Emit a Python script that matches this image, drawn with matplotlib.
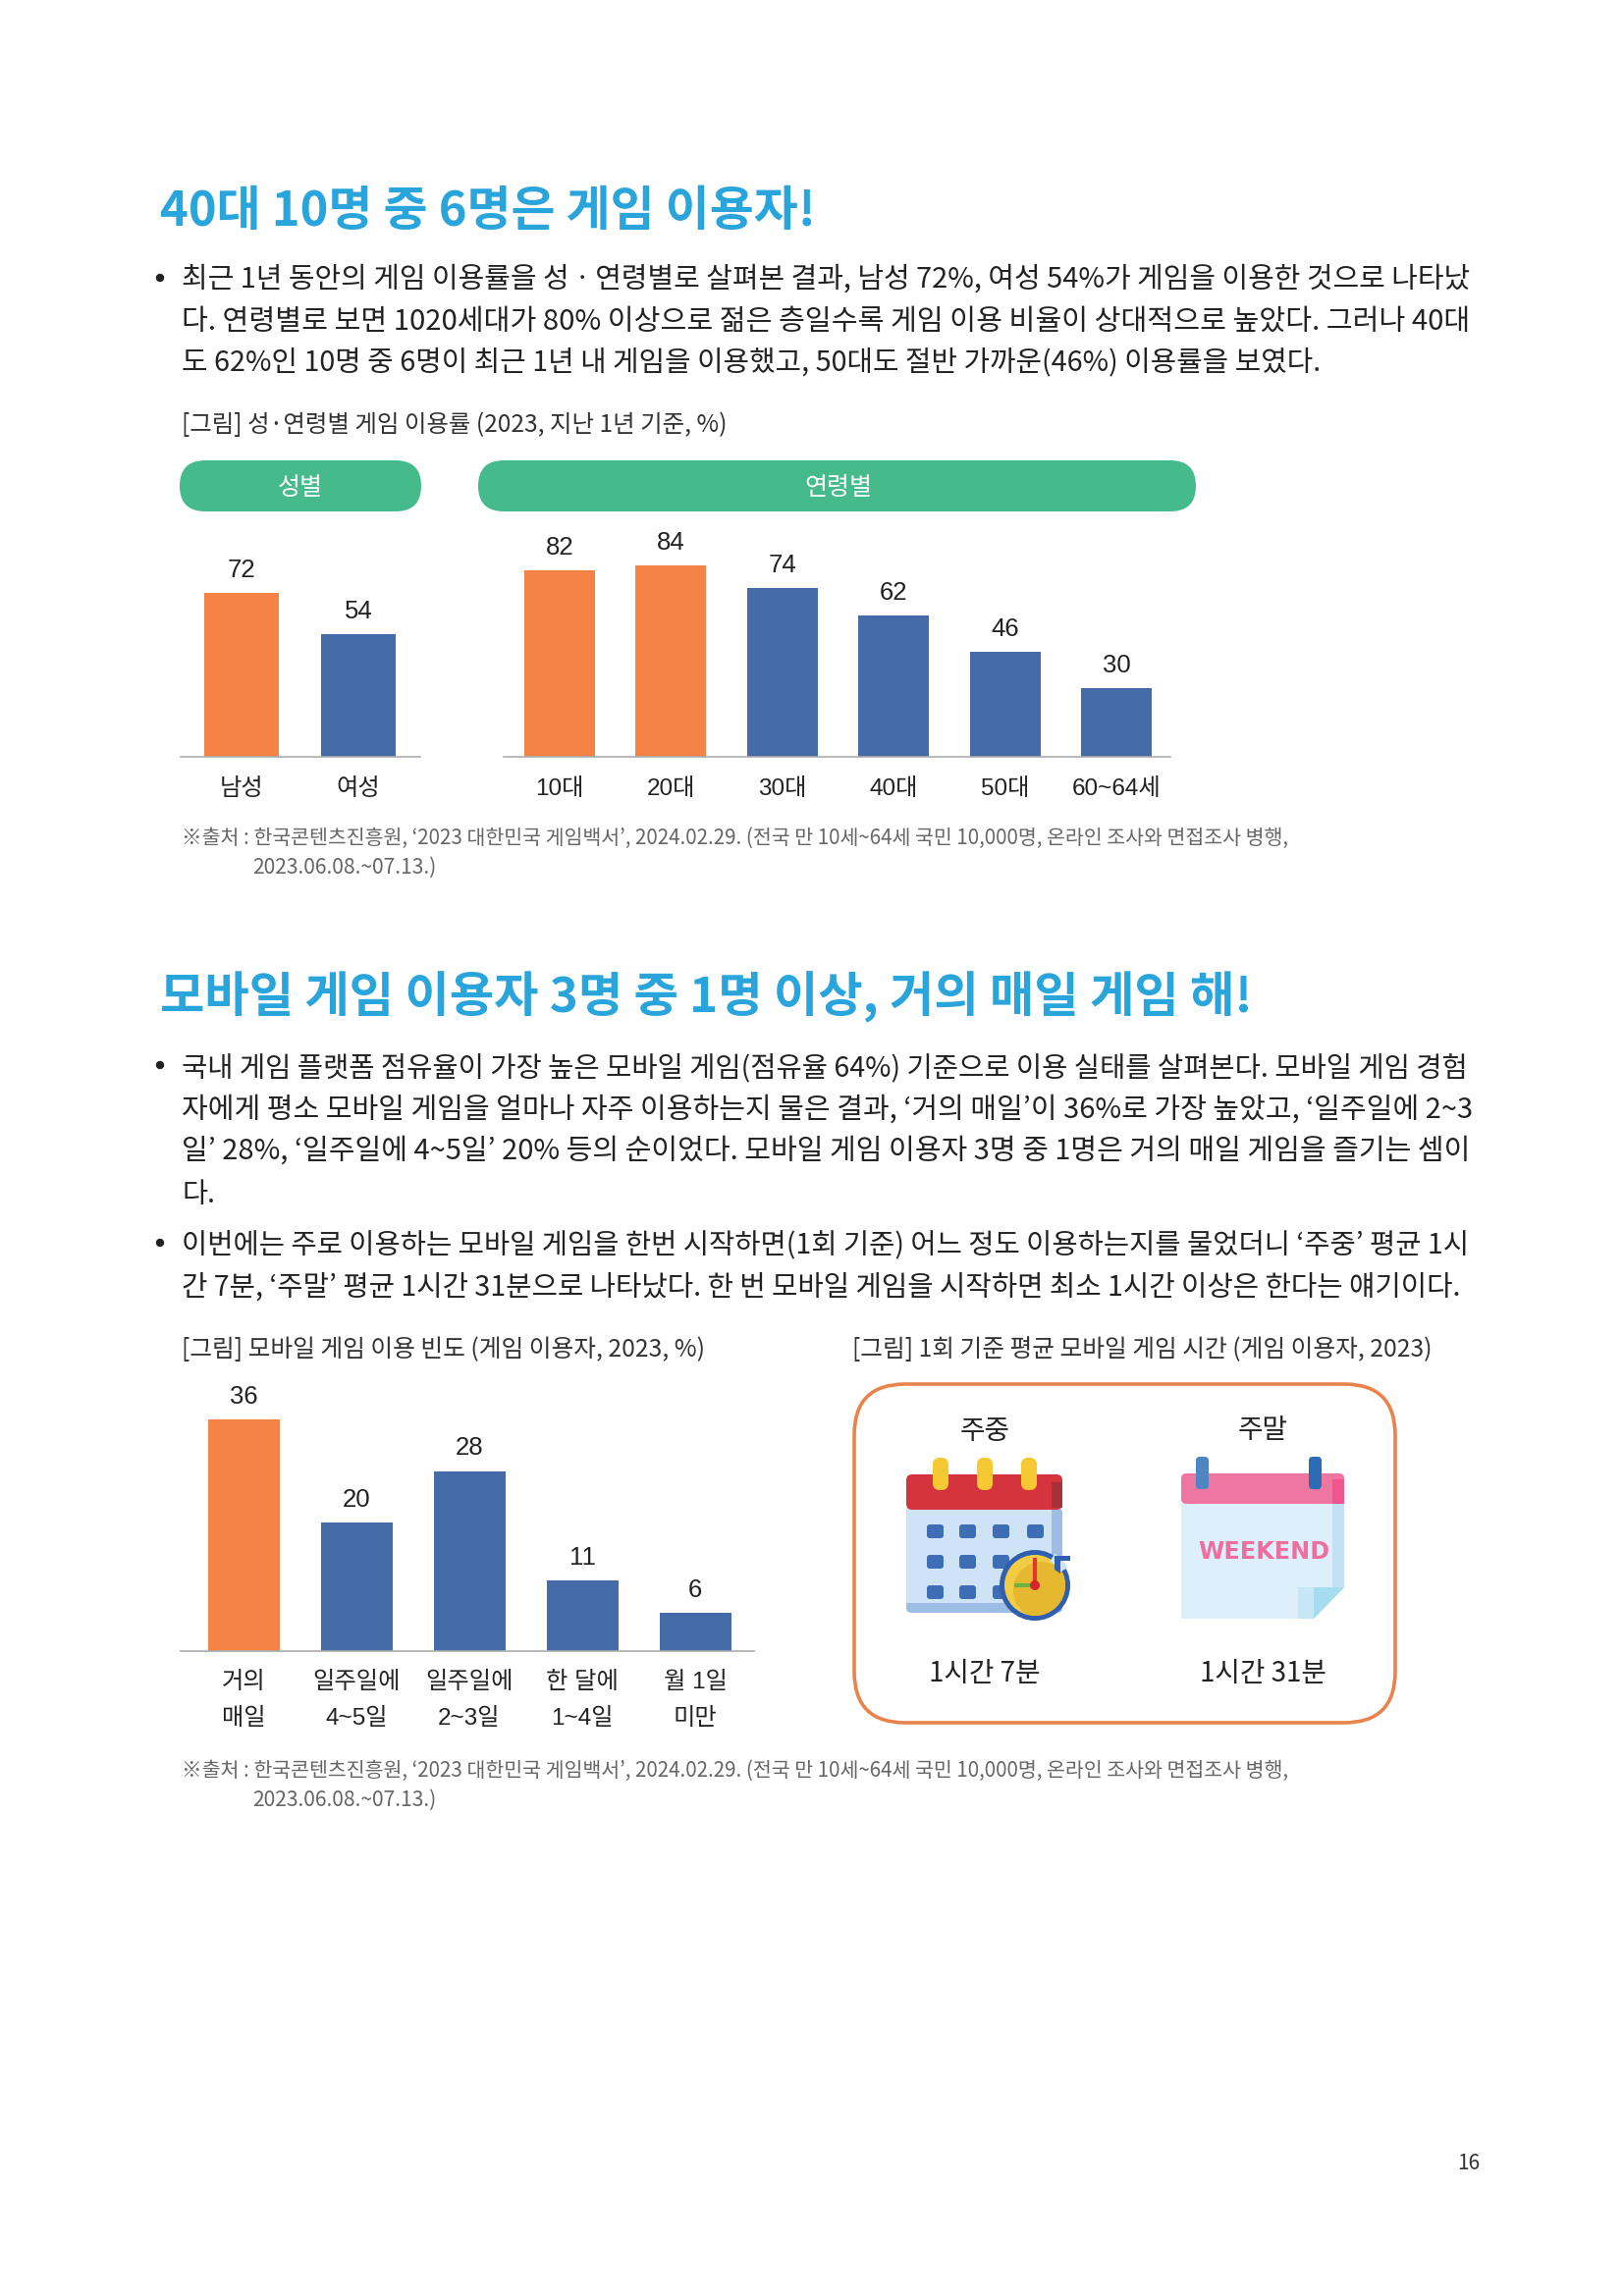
import matplotlib
matplotlib.use("Agg")
import matplotlib.pyplot as plt
from matplotlib.patches import FancyBboxPatch, Rectangle, Circle, Polygon, Wedge

plt.rcParams['font.family'] = ['Noto Sans CJK KR', 'DejaVu Sans']

W, H = 1653, 2339

# chart data
gender_labels = ['남성', '여성']
gender_values = [72, 54]
age_labels = ['10대', '20대', '30대', '40대', '50대', '60~64세']
age_values = [82, 84, 74, 62, 46, 30]
freq_labels = ['거의\n매일', '일주일에\n4~5일', '일주일에\n2~3일', '한 달에\n1~4일', '월 1일\n미만']
freq_values = [36, 20, 28, 11, 6]
gender_colors = ['orange', 'blue']
age_colors = ['orange', 'orange', 'blue', 'blue', 'blue', 'blue']
freq_colors = ['orange', 'blue', 'blue', 'blue', 'blue']

# page text
title1 = '40대 10명 중 6명은 게임 이용자!'
title2 = '모바일 게임 이용자 3명 중 1명 이상, 거의 매일 게임 해!'
body1 = ['최근 1년 동안의 게임 이용률을 성ㆍ연령별로 살펴본 결과, 남성 72%, 여성 54%가 게임을 이용한 것으로 나타났',
         '다. 연령별로 보면 1020세대가 80% 이상으로 젊은 층일수록 게임 이용 비율이 상대적으로 높았다. 그러나 40대',
         '도 62%인 10명 중 6명이 최근 1년 내 게임을 이용했고, 50대도 절반 가까운(46%) 이용률을 보였다.']
body2 = ['국내 게임 플랫폼 점유율이 가장 높은 모바일 게임(점유율 64%) 기준으로 이용 실태를 살펴본다. 모바일 게임 경험',
         '자에게 평소 모바일 게임을 얼마나 자주 이용하는지 물은 결과, ‘거의 매일’이 36%로 가장 높았고, ‘일주일에 2~3',
         '일’ 28%, ‘일주일에 4~5일’ 20% 등의 순이었다. 모바일 게임 이용자 3명 중 1명은 거의 매일 게임을 즐기는 셈이',
         '다.']
body3 = ['이번에는 주로 이용하는 모바일 게임을 한번 시작하면(1회 기준) 어느 정도 이용하는지를 물었더니 ‘주중’ 평균 1시',
         '간 7분, ‘주말’ 평균 1시간 31분으로 나타났다. 한 번 모바일 게임을 시작하면 최소 1시간 이상은 한다는 얘기이다.']
source1 = '※출처 : 한국콘텐츠진흥원, ‘2023 대한민국 게임백서’, 2024.02.29. (전국 만 10세~64세 국민 10,000명, 온라인 조사와 면접조사 병행,'
source2 = '2023.06.08.~07.13.)'

ORANGE = '#F58346'
BLUE = '#456CA8'
GREEN = '#45BB8C'
TITLE = '#2AA5DB'
PANEL = '#E9834B'
INK = '#222222'
GREY = '#666666'
palette = {'orange': ORANGE, 'blue': BLUE}
LABEL_FONT = ['Liberation Sans', 'Noto Sans CJK KR']

fig = plt.figure(figsize=(W / 100, H / 100), dpi=100)
renderer = fig.canvas.get_renderer()

# full page axes in pixels, for text and the two icons
page = fig.add_axes([0, 0, 1, 1], zorder=0)
page.set_xlim(0, W)
page.set_ylim(H, 0)
page.axis('off')


def put(s, x, y, size, right=None, color=INK, ha='left', **kw):
    t = page.text(x, y, s, fontsize=size, color=color, ha=ha, va='center', **kw)
    if right is not None:
        # squeeze the line so it ends where the reference does
        w = t.get_window_extent(renderer).width
        t.set_fontsize(size * (right - x) / w)
    return t


def bar_chart(x0, x1, y_base, px_per_unit, top, centers, width, labels, values, colors, pad, spacing=1.35):
    ax = fig.add_axes([x0 / W, 1 - y_base / H, (x1 - x0) / W, top * px_per_unit / H], zorder=2)
    step = (centers[1] - centers[0])
    ax.set_xlim((x0 - centers[0]) / step, (x1 - centers[0]) / step)
    ax.set_ylim(0, top)
    ax.patch.set_alpha(0)
    bars = ax.bar(range(len(values)), values, width=width / step, color=[palette[c] for c in colors])
    ax.bar_label(bars, padding=8, fontsize=18.5, color=INK, family=LABEL_FONT)
    ax.set_xticks(range(len(values)))
    ax.set_xticklabels(labels, fontsize=17.5, color=INK, family=LABEL_FONT, linespacing=spacing)
    ax.tick_params(axis='x', length=0, pad=pad)
    ax.set_yticks([])
    for side in ['top', 'left', 'right']:
        ax.spines[side].set_visible(False)
    ax.spines['bottom'].set_color('#ABABAB')
    ax.spines['bottom'].set_linewidth(1.2)
    return ax


# section 1
put(title1, 163, 216, 34, right=832, color=TITLE, weight='bold')
page.add_patch(Circle((163, 283), 3.5, color=INK))
put(body1[0], 185, 285, 21, right=1499)
put(body1[1], 185, 328, 21, right=1499)
put(body1[2], 185, 369, 21, right=1345)
put('[그림] 성·연령별 게임 이용률 (2023, 지난 1년 기준, %)', 185, 433, 18, right=741, color='#333333')

page.add_patch(FancyBboxPatch((183, 469), 246, 52, boxstyle='round,pad=0,rounding_size=26', fc=GREEN, ec='none'))
page.add_patch(FancyBboxPatch((487, 469), 731, 52, boxstyle='round,pad=0,rounding_size=26', fc=GREEN, ec='none'))
put('성별', 306, 497, 18, color='white', ha='center')
put('연령별', 854, 497, 18, color='white', ha='center')

bar_chart(184, 428, 771, 2.32, 100, [246, 365], 76, gender_labels, gender_values, gender_colors, 16)
bar_chart(513, 1192, 771, 2.32, 100, [570, 683.4, 796.8, 910.2, 1023.6, 1137], 72, age_labels, age_values, age_colors, 16)

put(source1, 185, 854, 15, right=1313, color=GREY)
put(source2, 257, 884, 15, right=445, color=GREY)

# section 2
put(title2, 163, 1016, 34, right=1278, color=TITLE, weight='bold')
page.add_patch(Circle((163, 1085), 3.5, color=INK))
put(body2[0], 185, 1088, 21, right=1499)
put(body2[1], 185, 1131, 21, right=1499)
put(body2[2], 185, 1173, 21, right=1499)
put(body2[3], 185, 1217, 21, right=219)
page.add_patch(Circle((163, 1266), 3.5, color=INK))
put(body3[0], 185, 1268, 21, right=1499)
put(body3[1], 185, 1312, 21, right=1492)

put('[그림] 모바일 게임 이용 빈도 (게임 이용자, 2023, %)', 185, 1375, 18, right=719, color='#333333')
put('[그림] 1회 기준 평균 모바일 게임 시간 (게임 이용자, 2023)', 868, 1375, 18, right=1459, color='#333333')

bar_chart(184, 768, 1682, 6.55, 40, [248, 363, 478, 593, 709], 73, freq_labels, freq_values, freq_colors, 15, spacing=1.85)

put(source1, 185, 1804, 15, right=1313, color=GREY)
put(source2, 257, 1834, 15, right=445, color=GREY)

# time panel
page.add_patch(FancyBboxPatch((870, 1410), 551, 345, boxstyle='round,pad=0,rounding_size=52',
                              fc='white', ec=PANEL, lw=2.6))
put('주중', 1003, 1458, 20, ha='center')
put('주말', 1286, 1457, 20, ha='center')
put('1시간 7분', 1003, 1705, 20, ha='center')
put('1시간 31분', 1286, 1705, 20, ha='center')

# weekday calendar icon
page.add_patch(FancyBboxPatch((923, 1536), 159, 107, boxstyle='round,pad=0,rounding_size=5', fc='#9DBDE4', ec='none'))
page.add_patch(Rectangle((923, 1536), 148, 97, fc='#CFE3F6', ec='none'))
page.add_patch(FancyBboxPatch((923, 1502), 159, 36, boxstyle='round,pad=0,rounding_size=6', fc='#D5333E', ec='none'))
page.add_patch(Rectangle((1071, 1510), 11, 26, fc='#A53238', ec='none'))
for rx in [958, 1003, 1048]:
    page.add_patch(FancyBboxPatch((rx - 8, 1485), 16, 33, boxstyle='round,pad=0,rounding_size=7', fc='#F6C832', ec='none'))
for ry in [1553, 1584, 1615]:
    for sx in [944, 977, 1011, 1046]:
        page.add_patch(FancyBboxPatch((sx, ry), 17, 14, boxstyle='round,pad=0,rounding_size=3', fc='#3C6DB5', ec='none'))

# stopwatch on the calendar
cx, cy = 1054, 1615
page.add_patch(Circle((cx, cy), 36, fc='#2F5FAE', ec='none', zorder=3))
face = Circle((cx, cy), 31, fc='#F3CC45', ec='none', zorder=3)
page.add_patch(face)
shade = Circle((cx + 7, cy + 5), 29, fc='#E6B82F', ec='none', zorder=3)
page.add_patch(shade)
shade.set_clip_path(face)
page.add_patch(Wedge((cx, cy), 38, -58, -28, width=9, fc='#CFE3F6', ec='none', zorder=4))
page.plot([cx, cx], [cy - 26, cy], color='#E2352F', lw=3, zorder=5)
page.plot([cx - 19, cx], [cy, cy], color='#6DB33F', lw=3, zorder=5)
page.add_patch(Circle((cx, cy), 5, fc='#D6262C', ec='none', zorder=6))
page.add_patch(Polygon([[cx + 20, cy - 30], [cx + 36, cy - 30], [cx + 36, cy - 25], [cx + 26, cy - 25], [cx + 26, cy - 12], [cx + 20, cy - 16]],
                       fc='#2F5FAE', ec='none', zorder=6))

# weekend calendar icon
page.add_patch(Polygon([[1203, 1532], [1369, 1532], [1369, 1617], [1338, 1649], [1203, 1649]], fc='#DCEFFB', ec='none'))
page.add_patch(Rectangle((1357, 1532), 12, 85, fc='#C4E0F5', ec='none'))
page.add_patch(Polygon([[1369, 1617], [1322, 1617], [1322, 1649], [1338, 1649]], fc='#C7E7F6', ec='none'))
page.add_patch(Polygon([[1369, 1617], [1338, 1617], [1338, 1649]], fc='#A5DCF0', ec='none'))
page.add_patch(FancyBboxPatch((1203, 1501), 166, 31, boxstyle='round,pad=0,rounding_size=5', fc='#EE76A1', ec='none'))
page.add_patch(Rectangle((1357, 1507), 12, 25, fc='#F0568E', ec='none'))
page.add_patch(FancyBboxPatch((1218, 1484), 13, 33, boxstyle='round,pad=0,rounding_size=4', fc='#4E86C4', ec='none'))
page.add_patch(FancyBboxPatch((1333, 1484), 13, 33, boxstyle='round,pad=0,rounding_size=4', fc='#2C6CB4', ec='none'))
put('WEEKEND', 1220, 1581, 22, right=1353, color='#EE6E9E', weight='bold', family=['DejaVu Sans'])

put('16', 1484, 2204, 15, color='#333333')

fig.savefig('out.png', dpi=100)
